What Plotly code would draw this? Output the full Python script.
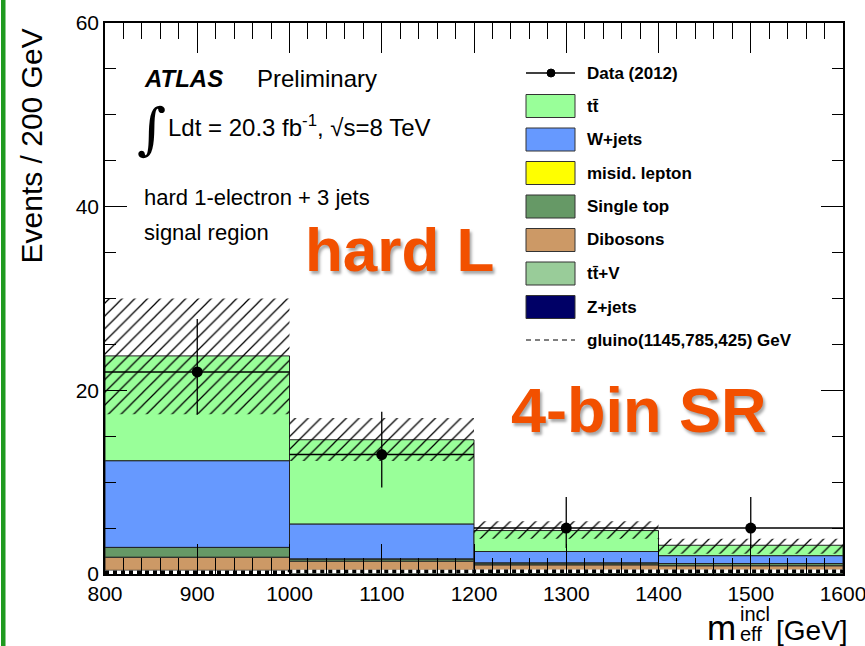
import numpy as np
import plotly.graph_objects as go

# ---- data -------------------------------------------------------------
bin_edges = [800, 1000, 1200, 1400, 1600]
bin_centers = [900, 1100, 1300, 1500]

zjets = [0.02, 0.02, 0.02, 0.02]
ttv = [0.38, 0.38, 0.38, 0.38]
dibosons = [1.43, 1.00, 0.60, 0.50]
single_top = [1.07, 0.25, 0.22, 0.24]
misid = [0.0, 0.0, 0.0, 0.0]
wjets = [9.44, 3.80, 1.23, 0.86]
ttbar = [11.41, 9.17, 2.28, 1.13]

bkg_up = [30.0, 17.0, 5.75, 3.85]
bkg_down = [17.4, 12.3, 3.85, 2.2]

data = [22, 13, 5, 5]
data_err_up = [5.76, 4.67, 3.38, 3.38]
data_err_down = [4.66, 3.58, 2.16, 2.16]

gluino = [0.2, 0.28, 0.3, 0.3]

y_ticks = [0, 20, 40, 60]
x_ticks = [800, 900, 1000, 1100, 1200, 1300, 1400, 1500, 1600]

# ---- canvas geometry ---------------------------------------------------
W, H = 865, 646
ML, MR, MT, MB = 105, 22, 23, 72
PW, PH = W - ML - MR, H - MT - MB
FONT = "Liberation Sans, Arial, Helvetica, sans-serif"


def fx(p):
    return (p - ML) / PW


def fy(p):
    return (H - MB - p) / PH


components = [
    ("Z+jets", zjets, "#000066"),
    ("tt\u0304+V", ttv, "#99cc99"),
    ("Dibosons", dibosons, "#cc9966"),
    ("Single top", single_top, "#669966"),
    ("misid. lepton", misid, "#ffff00"),
    ("W+jets", wjets, "#6699ff"),
    ("tt\u0304", ttbar, "#99ff99"),
]

fig = go.Figure()

base = np.zeros(len(bin_centers))
for name, vals, col in components:
    v = np.array(vals, dtype=float)
    fig.add_trace(go.Bar(
        x=bin_centers, y=v, base=base.copy(), width=200, name=name,
        marker=dict(color=col, line=dict(color="#222222", width=1)),
        showlegend=False, hoverinfo="skip"))
    base = base + v

# systematic uncertainty band
up = np.array(bkg_up)
dn = np.array(bkg_down)
fig.add_trace(go.Bar(
    x=bin_centers, y=up - dn, base=dn, width=200,
    marker=dict(color="rgba(0,0,0,0)", line=dict(width=0),
                pattern=dict(shape="/", fgcolor="black", fgopacity=1,
                             bgcolor="rgba(0,0,0,0)",
                             size=9, solidity=0.14, fillmode="overlay")),
    showlegend=False, hoverinfo="skip"))

# gluino signal, step line
step_y = list(gluino) + [gluino[-1]]
fig.add_trace(go.Scatter(
    x=bin_edges, y=step_y, mode="lines", line=dict(color="white", width=3.5, shape="hv"),
    showlegend=False, hoverinfo="skip"))
fig.add_trace(go.Scatter(
    x=bin_edges, y=step_y, mode="lines",
    line=dict(color="black", width=3.5, shape="hv", dash="4px,4px"),
    showlegend=False, hoverinfo="skip"))

# data points
fig.add_trace(go.Scatter(
    x=bin_centers, y=data, mode="markers",
    marker=dict(color="black", size=11),
    error_y=dict(type="data", symmetric=False, array=data_err_up,
                 arrayminus=data_err_down, color="black", thickness=1.3, width=0),
    error_x=dict(type="constant", value=100, color="black", thickness=1.5, width=0),
    showlegend=False, hoverinfo="skip"))

annotations = []
shapes = []


def text(x, y, s, size, anchor="left", color="black", family=FONT, angle=0, shadow=None):
    f = dict(family=family, size=size, color=color)
    if shadow:
        f["shadow"] = shadow
    annotations.append(dict(
        x=fx(x), y=fy(y), xref="paper", yref="paper", text=s, showarrow=False,
        xanchor=anchor, yanchor="middle", font=f, textangle=angle, borderpad=0))


# experiment labels
text(143, 79, "<b><i>ATLAS</i></b>", 24)
text(256, 79, "Preliminary", 24)
text(151, 128, "\u222b", 56, anchor="center", family="DejaVu Serif")
text(167, 126, "Ldt = 20.3 fb<sup>-1</sup>, \u221as=8 TeV", 24)
text(143, 197, "hard 1-electron + 3 jets", 22)
text(143, 232, "signal region", 22)

orange = "#f25000"
sh = "2px 3px 3px rgba(0,0,0,0.35)"
text(304, 249, "<b>hard L</b>", 62, color=orange, shadow=sh)
text(510, 410, "<b>4-bin SR</b>", 63, color=orange, shadow=sh)

# legend
rows = [73, 106, 139.5, 173, 206.5, 240, 273.5, 307, 340]
lx0, lx1 = 526, 575
shapes.append(dict(type="line", xref="paper", yref="paper",
                   x0=fx(lx0), x1=fx(lx1), y0=fy(rows[0]), y1=fy(rows[0]),
                   line=dict(color="black", width=1.3)))
shapes.append(dict(type="circle", xref="paper", yref="paper",
                   x0=fx(547), x1=fx(555), y0=fy(77), y1=fy(69),
                   fillcolor="black", line=dict(color="black", width=1)))
text(586, rows[0], "<b>Data (2012)</b>", 17)
legend_items = list(reversed(components))
for i, (name, vals, col) in enumerate(legend_items):
    yc = rows[i + 1]
    shapes.append(dict(type="rect", xref="paper", yref="paper",
                       x0=fx(lx0), x1=fx(lx1), y0=fy(yc + 11.5), y1=fy(yc - 11.5),
                       fillcolor=col, line=dict(color="#333333", width=1)))
    text(586, yc, "<b>%s</b>" % name, 17)
shapes.append(dict(type="line", xref="paper", yref="paper",
                   x0=fx(lx0), x1=fx(lx1), y0=fy(rows[8]), y1=fy(rows[8]),
                   line=dict(color="black", width=1.2, dash="5px,4px")))
text(586, rows[8], "<b>gluino(1145,785,425) GeV</b>", 17)

# axis titles
text(31, 146.5, "Events / 200 GeV", 30, anchor="center", angle=-90)
text(737, 627, "m", 35, anchor="right")
text(739, 614, "incl", 20)
text(739, 634, "eff", 20)
text(775, 630, "[GeV]", 28)

# slide edge bar
shapes.append(dict(type="rect", xref="paper", yref="paper",
                   x0=fx(1), x1=fx(5.5), y0=fy(646), y1=fy(0),
                   fillcolor="#1f9a1f", line=dict(width=0), layer="above"))

axis_common = dict(
    showgrid=False, zeroline=False, showline=True, linecolor="black", linewidth=1.6,
    mirror="ticks", ticks="inside", tickcolor="black", tickwidth=1.3,
    tickfont=dict(family=FONT, size=21, color="black"),
    ticklabeloverflow="allow", automargin=False,
)

fig.update_layout(
    width=W, height=H, margin=dict(l=ML, r=MR, t=MT, b=MB, autoexpand=False),
    paper_bgcolor="white", plot_bgcolor="white", barmode="overlay",
    showlegend=False, annotations=annotations, shapes=shapes,
    xaxis=dict(range=[800, 1600], tickvals=x_ticks, ticklen=30,
               minor=dict(dtick=20, tick0=800, ticklen=16, ticks="inside",
                          tickcolor="black", tickwidth=1.3),
               **axis_common),
    yaxis=dict(range=[0, 60], tickvals=y_ticks, ticklen=22,
               minor=dict(dtick=5, tick0=0, ticklen=11, ticks="inside",
                          tickcolor="black", tickwidth=1.3),
               **axis_common),
)

fig.write_html("out.html")
